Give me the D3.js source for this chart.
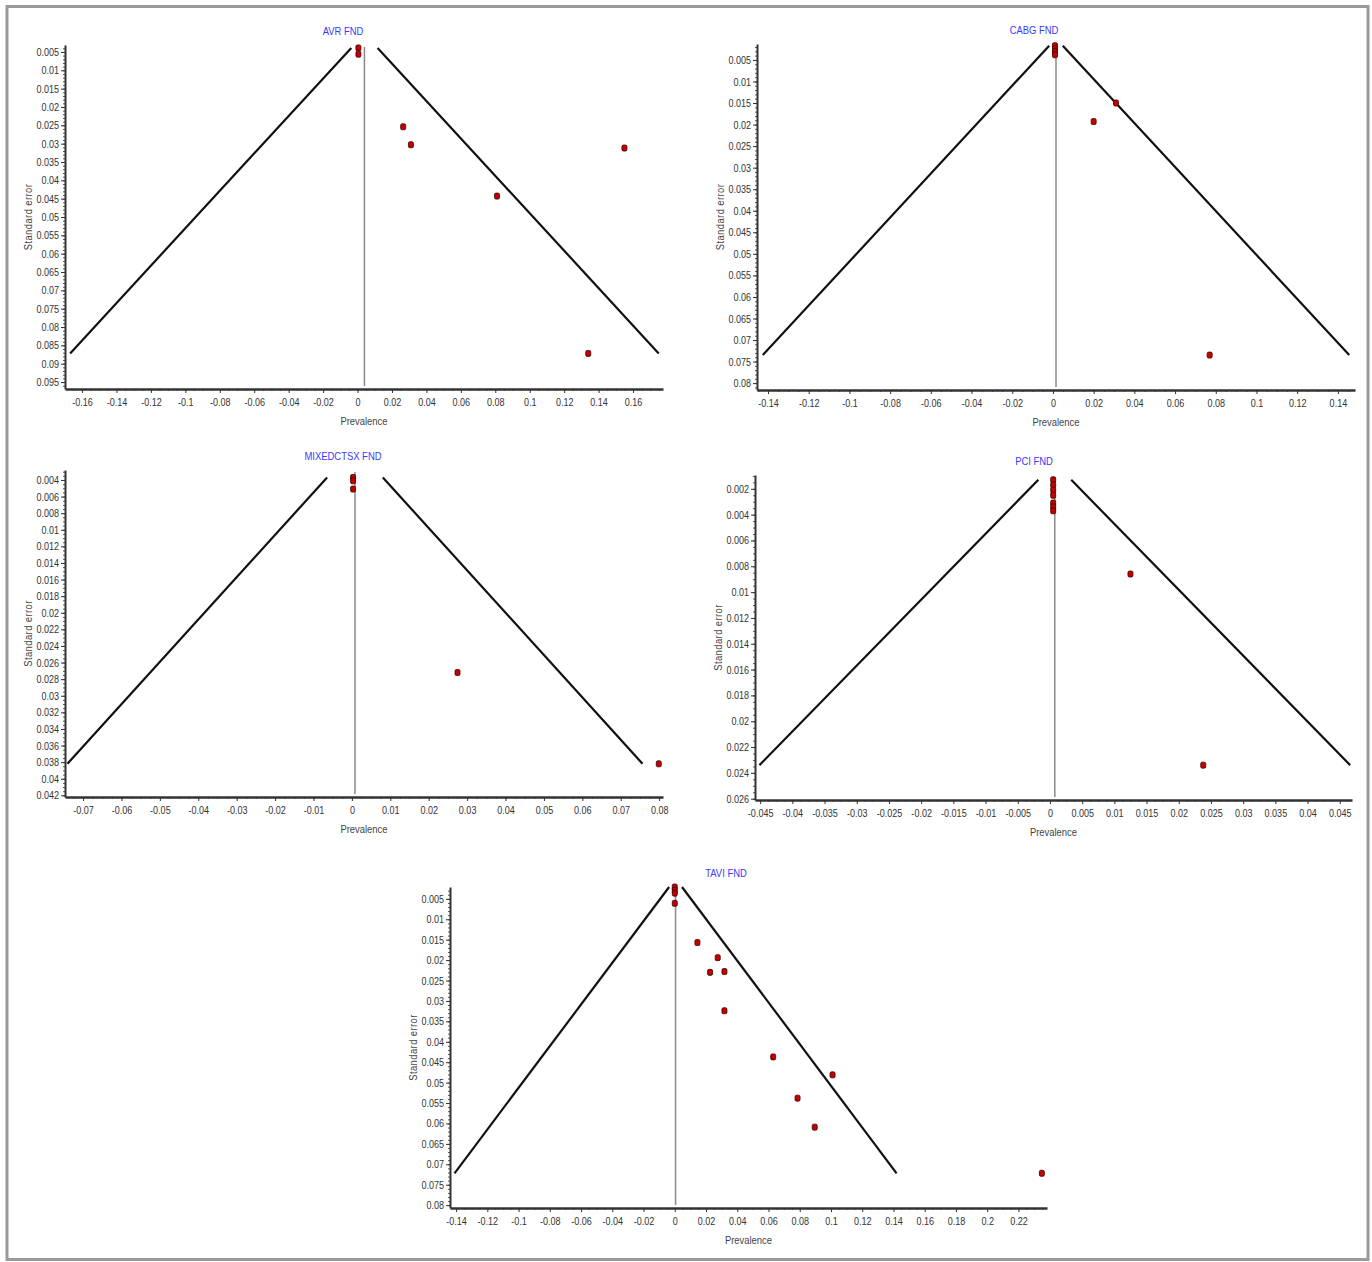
<!DOCTYPE html>
<html>
<head>
<meta charset="utf-8">
<script src="https://cdn.jsdelivr.net/npm/d3@7"></script>
<style>
  body { margin:0; background:#fff; }
  svg text { font-family:"Liberation Sans",Arial,sans-serif; }
  .tick text { fill:#333; font-size:11px; }
  .ttl { fill:#3a3aff; font-size:11.5px; }
  .lab { fill:#444; font-size:11.5px; }
</style>
</head>
<body>
<svg id="fig" width="1372" height="1262"></svg>
<script>
// panel names
var names = ["AVR FND", "CABG FND", "MIXEDCTSX FND", "PCI FND", "TAVI FND"];

// study estimates (prevalence) and standard errors
var avrX  = [0.0005, 0.0005, 0.0265, 0.031, 0.155, 0.081, 0.134];
var avrSE = [0.0039, 0.0056, 0.0254, 0.0303, 0.0312, 0.0443, 0.0872];

var cabgX  = [0.001, 0.001, 0.001, 0.001, 0.031, 0.020, 0.077];
var cabgSE = [0.0017, 0.0024, 0.0031, 0.0038, 0.0150, 0.0193, 0.0735];

var mixX  = [0.0003, 0.0003, 0.0003, 0.0275, 0.0799];
var mixSE = [0.0037, 0.0041, 0.0051, 0.0272, 0.0382];

var pciX  = [0.0005, 0.0005, 0.0005, 0.0005, 0.0005, 0.0005, 0.0005, 0.0125, 0.0238];
var pciSE = [0.0013, 0.0017, 0.0021, 0.0025, 0.0031, 0.0034, 0.0037, 0.0086, 0.0234];

var taviX  = [0, 0, 0, 0, 0.0145, 0.0275, 0.0226, 0.0318, 0.0318, 0.063, 0.101, 0.0786, 0.0896, 0.235];
var taviSE = [0.0021, 0.0029, 0.0036, 0.0061, 0.0157, 0.0194, 0.0230, 0.0228, 0.0324, 0.0437, 0.0481, 0.0538, 0.0609, 0.0722];

// pooled estimates (vertical line)
var pooled = [0.004, 0.0015, 0.0008, 0.00075, 0.0005];

// tick labels
var avrXTicks  = [-0.16,-0.14,-0.12,-0.1,-0.08,-0.06,-0.04,-0.02,0,0.02,0.04,0.06,0.08,0.1,0.12,0.14,0.16];
var avrYTicks  = [0.005,0.01,0.015,0.02,0.025,0.03,0.035,0.04,0.045,0.05,0.055,0.06,0.065,0.07,0.075,0.08,0.085,0.09,0.095];
var cabgXTicks = [-0.14,-0.12,-0.1,-0.08,-0.06,-0.04,-0.02,0,0.02,0.04,0.06,0.08,0.1,0.12,0.14];
var cabgYTicks = [0.005,0.01,0.015,0.02,0.025,0.03,0.035,0.04,0.045,0.05,0.055,0.06,0.065,0.07,0.075,0.08];
var mixXTicks  = [-0.07,-0.06,-0.05,-0.04,-0.03,-0.02,-0.01,0,0.01,0.02,0.03,0.04,0.05,0.06,0.07,0.08];
var mixYTicks  = [0.004,0.006,0.008,0.01,0.012,0.014,0.016,0.018,0.02,0.022,0.024,0.026,0.028,0.03,0.032,0.034,0.036,0.038,0.04,0.042];
var pciXTicks  = [-0.045,-0.04,-0.035,-0.03,-0.025,-0.02,-0.015,-0.01,-0.005,0,0.005,0.01,0.015,0.02,0.025,0.03,0.035,0.04,0.045];
var pciYTicks  = [0.002,0.004,0.006,0.008,0.01,0.012,0.014,0.016,0.018,0.02,0.022,0.024,0.026];
var taviXTicks = [-0.14,-0.12,-0.1,-0.08,-0.06,-0.04,-0.02,0,0.02,0.04,0.06,0.08,0.1,0.12,0.14,0.16,0.18,0.2,0.22];
var taviYTicks = [0.005,0.01,0.015,0.02,0.025,0.03,0.035,0.04,0.045,0.05,0.055,0.06,0.065,0.07,0.075,0.08];

// axis extents
var xDomains = [[-0.1699, 0.1774], [-0.1454, 0.1484], [-0.0747, 0.081], [-0.0458, 0.0469], [-0.1439, 0.2383]];
var yDomains = [[0.0031, 0.0969], [0.0013, 0.0816], [0.0028, 0.0422], [0.00093, 0.0261], [0.0021, 0.0807]];

// layout of each plot area: left, right, top, bottom, title x
var boxes = [
  {l:65,  r:663,  t:45,  b:389,  tx:343},
  {l:757, r:1355, t:44,  b:390,  tx:1034},
  {l:65,  r:663,  t:470, b:797,  tx:343},
  {l:755, r:1352, t:475, b:800,  tx:1034},
  {l:450, r:1047, t:887, b:1208, tx:726}
];

var panels = [
  {xs:avrX,  se:avrSE,  xt:avrXTicks,  yt:avrYTicks,  xm:0.005,  ym:0.001},
  {xs:cabgX, se:cabgSE, xt:cabgXTicks, yt:cabgYTicks, xm:0.005,  ym:0.001},
  {xs:mixX,  se:mixSE,  xt:mixXTicks,  yt:mixYTicks,  xm:0.0025, ym:0.0005},
  {xs:pciX,  se:pciSE,  xt:pciXTicks,  yt:pciYTicks,  xm:0.00125,ym:0.0005},
  {xs:taviX, se:taviSE, xt:taviXTicks, yt:taviYTicks, xm:0.005,  ym:0.001}
];

var fmt = function(v) { return String(+v.toFixed(4)); };

var svg = d3.select("#fig");

svg.append("rect")
  .attr("x", 7).attr("y", 6.5)
  .attr("width", 1361).attr("height", 1253)
  .attr("fill", "none")
  .attr("stroke", "#9a9a9a")
  .attr("stroke-width", 3);

panels.forEach(function(p, i) {
  var b = boxes[i];
  var x = d3.scaleLinear().domain(xDomains[i]).range([b.l, b.r]);
  var y = d3.scaleLinear().domain(yDomains[i]).range([b.t, b.b]);
  var g = svg.append("g");

  // minor ticks
  var xd = xDomains[i], yd = yDomains[i];
  var xMinor = d3.range(Math.ceil(xd[0] / p.xm) * p.xm, xd[1], p.xm);
  var yMinor = d3.range(Math.ceil(yd[0] / p.ym) * p.ym, yd[1], p.ym);

  g.append("g")
    .attr("transform", "translate(0," + b.b + ")")
    .call(d3.axisBottom(x).tickValues(xMinor).tickSize(2).tickFormat(""))
    .call(function(a) { a.select(".domain").remove(); a.selectAll("line").attr("stroke", "#555"); });
  g.append("g")
    .attr("transform", "translate(" + b.l + ",0)")
    .call(d3.axisLeft(y).tickValues(yMinor).tickSize(2).tickFormat(""))
    .call(function(a) { a.select(".domain").remove(); a.selectAll("line").attr("stroke", "#555"); });

  // major axes
  g.append("g")
    .attr("transform", "translate(0," + b.b + ")")
    .call(d3.axisBottom(x).tickValues(p.xt).tickSize(4).tickSizeOuter(0).tickPadding(5).tickFormat(fmt))
    .call(function(a) {
      a.select(".domain").attr("stroke", "#333").attr("stroke-width", 2.5);
      a.selectAll(".tick line").attr("stroke", "#333");
    });
  g.append("g")
    .attr("transform", "translate(" + b.l + ",0)")
    .call(d3.axisLeft(y).tickValues(p.yt).tickSize(4).tickSizeOuter(0).tickPadding(2).tickFormat(fmt))
    .call(function(a) {
      a.select(".domain").attr("stroke", "#333").attr("stroke-width", 2);
      a.selectAll(".tick line").attr("stroke", "#333");
    });

  // pooled estimate line
  g.append("line")
    .attr("x1", x(pooled[i])).attr("x2", x(pooled[i]))
    .attr("y1", y(yd[0]) + 2).attr("y2", y(yd[1]) - 3)
    .attr("stroke", "#8a8a8a").attr("stroke-width", 1.5);

  // funnel (95% limits)
  var seExt = d3.extent(p.se);
  [-1.96, 1.96].forEach(function(z) {
    g.append("line")
      .attr("x1", x(pooled[i] + z * seExt[0])).attr("y1", y(seExt[0]))
      .attr("x2", x(pooled[i] + z * seExt[1])).attr("y2", y(seExt[1]))
      .attr("stroke", "#111").attr("stroke-width", 2.2);
  });

  // studies
  g.selectAll("rect.pt")
    .data(p.xs.map(function(v, k) { return [v, p.se[k]]; }))
    .enter().append("rect")
    .attr("class", "pt")
    .attr("x", function(d) { return x(d[0]) - 2.5; })
    .attr("y", function(d) { return y(d[1]) - 3; })
    .attr("width", 5).attr("height", 6)
    .attr("rx", 1.5)
    .attr("fill", "#c40000")
    .attr("stroke", "#3a0000").attr("stroke-width", 0.8);

  // labels
  g.append("text").attr("class", "ttl")
    .attr("x", b.tx).attr("y", b.t - 10)
    .attr("text-anchor", "middle").text(names[i]);
  g.append("text").attr("class", "lab")
    .attr("x", (b.l + b.r) / 2).attr("y", b.b + 36)
    .attr("text-anchor", "middle").text("Prevalence");
  g.append("text").attr("class", "lab")
    .attr("transform", "translate(" + (b.l - 33) + "," + ((b.t + b.b) / 2) + ") rotate(-90)")
    .attr("text-anchor", "middle")
    .attr("letter-spacing", 0.5)
    .text("Standard error");
});

// narrow the glyphs to match the condensed face of the original
svg.selectAll("text").each(function() {
  var len = this.getComputedTextLength();
  if (len > 0) {
    d3.select(this)
      .attr("textLength", len * 0.82)
      .attr("lengthAdjust", "spacingAndGlyphs");
  }
});
</script>
</body>
</html>
